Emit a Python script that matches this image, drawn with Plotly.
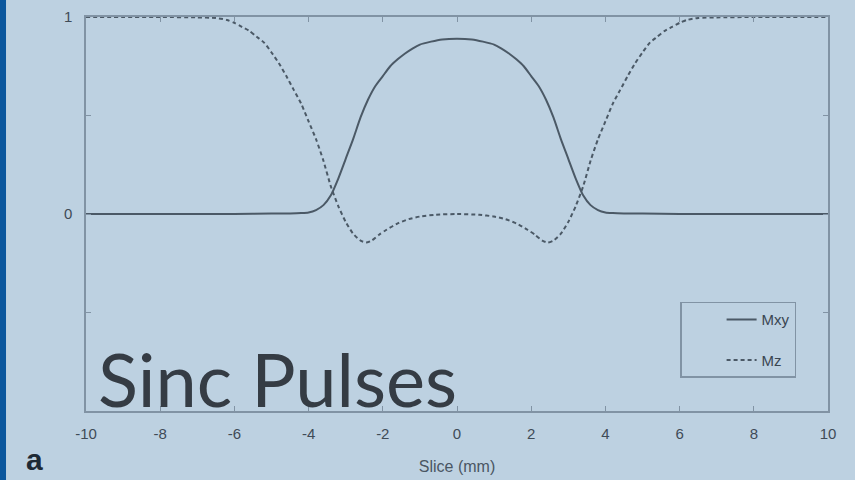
import plotly.graph_objects as go

# Slice position (mm)
x_mxy = [-10, -9, -8, -7, -6, -5, -4.5, -4.2, -4.0, -3.8, -3.6, -3.4, -3.2, -3.0, -2.8, -2.6,
         -2.4, -2.2, -2.0, -1.8, -1.6, -1.4, -1.2, -1.0, -0.7, -0.4, 0,
         0.4, 0.7, 1.0, 1.2, 1.4, 1.6, 1.8, 2.0, 2.2, 2.4, 2.6, 2.8, 3.0, 3.2, 3.4, 3.6,
         3.8, 4.0, 4.2, 4.5, 5, 6, 7, 8, 9, 10]
mxy = [0, 0, 0, 0, 0, 0.002, 0.003, 0.005, 0.008, 0.02, 0.045, 0.095, 0.18, 0.28, 0.38, 0.49,
       0.58, 0.65, 0.70, 0.75, 0.785, 0.815, 0.84, 0.86, 0.875, 0.886, 0.89,
       0.886, 0.875, 0.86, 0.84, 0.815, 0.785, 0.75, 0.70, 0.65, 0.58, 0.49, 0.38, 0.28, 0.18, 0.095, 0.045,
       0.02, 0.008, 0.005, 0.003, 0.002, 0, 0, 0, 0, 0]

x_mz = [-10, -8, -7, -6.5, -6.2, -6.0, -5.8, -5.6, -5.4, -5.2, -5.0, -4.8, -4.6, -4.4, -4.2,
        -4.0, -3.8, -3.6, -3.4, -3.2, -3.0, -2.8, -2.6, -2.45, -2.3, -2.1, -1.9, -1.6, -1.3,
        -1.0, -0.6, 0,
        0.6, 1.0, 1.3, 1.6, 1.9, 2.1, 2.3, 2.45, 2.6, 2.8, 3.0, 3.2, 3.4, 3.6, 3.8, 4.0,
        4.2, 4.4, 4.6, 4.8, 5.0, 5.2, 5.4, 5.6, 5.8, 6.0, 6.2, 6.5, 7, 8, 10]
mz = [1, 1, 0.998, 0.995, 0.985, 0.97, 0.95, 0.93, 0.90, 0.87, 0.82, 0.765, 0.70, 0.63, 0.56,
      0.47, 0.38, 0.27, 0.14, 0.04, -0.04, -0.10, -0.135, -0.145, -0.135, -0.105, -0.08, -0.048, -0.026,
      -0.013, -0.004, 0,
      -0.004, -0.013, -0.026, -0.048, -0.08, -0.105, -0.135, -0.145, -0.135, -0.10, -0.04, 0.04, 0.14, 0.27, 0.38, 0.47,
      0.56, 0.63, 0.70, 0.765, 0.82, 0.87, 0.90, 0.93, 0.95, 0.97, 0.985, 0.995, 0.998, 1, 1]

x_ticks = [-10, -8, -6, -4, -2, 0, 2, 4, 6, 8, 10]
x_ticktext = ["-10", "-8", "-6", "-4", "-2", "0", "2", "4", "6", "8", "10"]
y_ticks = [-1, -0.5, 0, 0.5, 1]
y_ticktext = ["", "", "0", "", "1"]

line_col = "#4b5966"
axis_col = "#8193a4"
text_col = "#3f4b57"
bg = "#bdd1e1"

fig = go.Figure()
fig.add_trace(go.Scatter(x=x_mxy, y=mxy, mode="lines", name="Mxy", legendgroup="a",
                         line=dict(color=line_col, width=2, shape="spline", smoothing=0.6)))
fig.add_trace(go.Scatter(x=x_mz, y=mz, mode="lines", name="Mz", legendgroup="b",
                         line=dict(color=line_col, width=2, dash="4px,3px", shape="spline", smoothing=0.6)))

fig.update_layout(
    width=855, height=480,
    margin=dict(l=86, r=27, t=17, b=69),
    paper_bgcolor=bg, plot_bgcolor=bg,
    font=dict(family="Liberation Sans, Arial, sans-serif", color=text_col, size=15),
    showlegend=True,
    legend=dict(x=0.957, y=0.277, xanchor="right", yanchor="top",
                bgcolor="rgba(0,0,0,0)", bordercolor=axis_col, borderwidth=1.5,
                font=dict(size=15, color="#3a4652"), tracegroupgap=18,
                traceorder="grouped", indentation=40),
    xaxis=dict(range=[-10, 10], tickvals=x_ticks, ticktext=x_ticktext, ticks="inside", ticklen=5,
               tickcolor=axis_col, showline=True, linecolor=axis_col, linewidth=1.5,
               mirror="ticks", showgrid=False, zeroline=False, ticklabelstandoff=8,
               automargin=False,
               title=dict(text="Slice (mm)", font=dict(size=16, color="#4a5663"), standoff=20)),
    yaxis=dict(range=[-1, 1], tickvals=y_ticks, ticktext=y_ticktext, ticks="inside", ticklen=5,
               tickcolor=axis_col, showline=True, linecolor=axis_col, linewidth=1.5,
               mirror="ticks", showgrid=False, zeroline=False, ticklabelstandoff=9,
               automargin=False),
    shapes=[dict(type="rect", xref="paper", yref="paper", x0=-0.1159, x1=-0.1078,
                 y0=-0.2, y1=1.1, fillcolor="#0b579d", line=dict(width=0), layer="above")],
    annotations=[
        dict(text="Sinc Pulses", xref="paper", yref="paper", x=0.013, y=-0.036,
             xanchor="left", yanchor="bottom", showarrow=False,
             font=dict(family="Lato, sans-serif", size=74, color="#353c44")),
        dict(text="<b>a</b>", xref="paper", yref="paper", x=-0.0836, y=-0.124,
             xanchor="left", yanchor="middle", showarrow=False,
             font=dict(family="Liberation Sans, Arial, sans-serif", size=30, color="#1e2a35")),
    ],
)

fig.write_html("out.html")
